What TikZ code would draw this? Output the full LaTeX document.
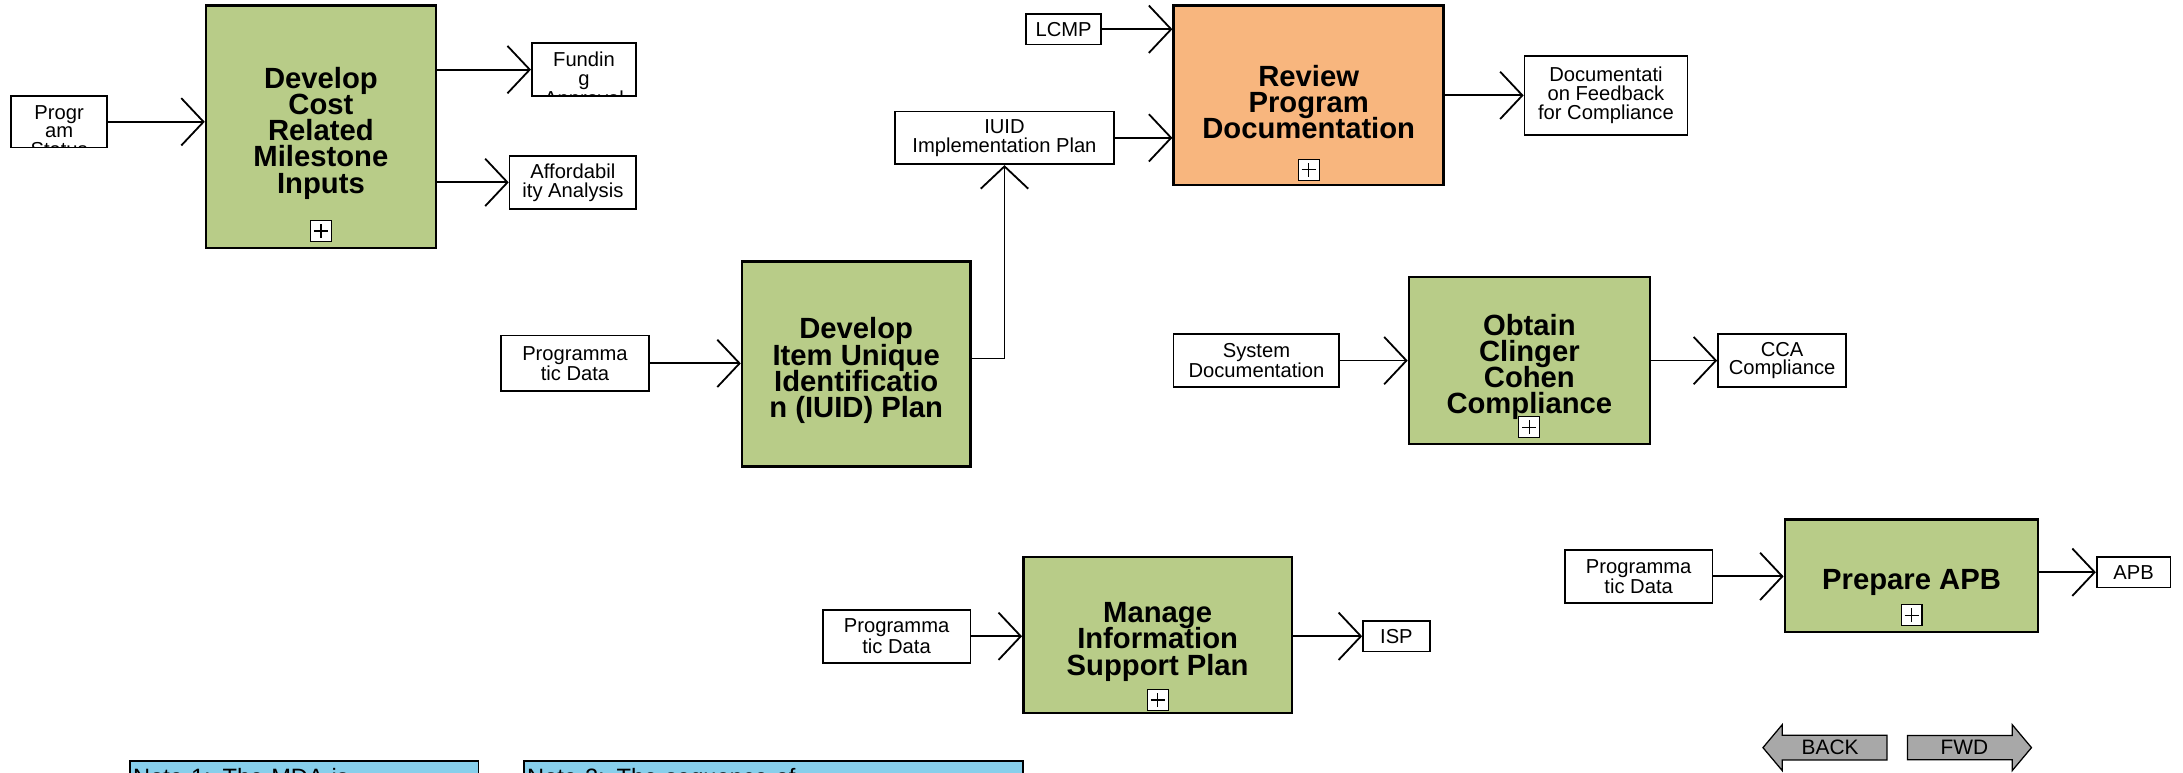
\documentclass[tikz,border=0pt]{standalone}
\usepackage{fontspec}
\setmainfont{Liberation Sans}
\usetikzlibrary{arrows.meta, shapes.arrows}
\definecolor{procgreen}{RGB}{184,204,136}
\definecolor{procorange}{RGB}{248,182,126}
\definecolor{noteblue}{RGB}{135,207,235}
\definecolor{navgray}{RGB}{168,168,168}
% pushes the bold titles a little down in their boxes
\newcommand{\toppad}{\rule{0pt}{24.5pt}}
% fixed line distance for the bold titles
\newcommand{\tightlines}{\lineskiplimit=-30pt\relax}

\begin{document}
\begin{tikzpicture}[x=1pt, y=-1pt,
  process/.style={draw, line width=1.8pt, fill=procgreen, align=center, inner sep=0pt, font=\bfseries\fontsize{21}{18.8}\selectfont\tightlines},
  databox/.style={draw, line width=1.2pt, fill=white, align=center, inner sep=0pt, font=\fontsize{14.5}{13.5}\selectfont},
  cutbox/.style={databox, path picture={\node[draw=none, fill=none, inner sep=0pt, align=center, anchor=north, font=\fontsize{14.5}{13.5}\selectfont] at ([yshift=-6pt]path picture bounding box.north) {#1};}},
  plusbox/.style={draw, line width=0.8pt, fill=white, minimum size=15pt, inner sep=0pt, path picture={\draw[line width=1pt] ([xshift=-5pt]path picture bounding box.center) -- ([xshift=5pt]path picture bounding box.center) ([yshift=-5pt]path picture bounding box.center) -- ([yshift=5pt]path picture bounding box.center);}},
  flow/.style={line width=1.3pt, -{Straight Barb[length=16pt, width=34pt]}},
  notebox/.style={draw, line width=1.3pt, fill=noteblue, anchor=north west, align=left, inner xsep=2pt, inner ysep=5pt, font=\fontsize{17}{17}\selectfont},
  navarrow/.style={single arrow, draw, line width=0.9pt, fill=navgray, minimum height=89pt, minimum width=33pt, single arrow head extend=5pt, single arrow tip angle=100, inner sep=0pt, font=\fontsize{15}{15}\selectfont}
]

  % page size of the reference (pixels of the small copy)
  \useasboundingbox (0,0) rectangle (1568,555);
  \clip (0,0) rectangle (1568,555);
  \fill[white] (0,0) rectangle (1568,555);

  % Activities
  \node[process, minimum width=165pt, minimum height=174pt] (dcost) at (230.5,91) {\toppad Develop\\Cost\\Related\\Milestone\\Inputs};
  \node[process, fill=procorange, minimum width=194pt, minimum height=129pt] (review) at (940,68.5) {\toppad Review\\Program\\Documentation};
  \node[process, minimum width=164pt, minimum height=147pt] (iuid) at (615,261.5) {\toppad Develop\\Item Unique\\Identificatio\\n (IUID) Plan};
  \node[process, minimum width=173pt, minimum height=120pt] (obtain) at (1098.5,259) {\toppad Obtain\\Clinger\\Cohen\\Compliance};
  \node[process, minimum width=193pt, minimum height=112pt] (manage) at (831.5,456) {\toppad Manage\\Information\\Support Plan};
  \node[process, minimum width=182pt, minimum height=81pt] (prepare) at (1373,413.5) {\toppad Prepare APB};

  % the little + boxes
  \node[plusbox] (dcostplus) at ([yshift=13pt]dcost.south) {};
  \node[plusbox] (reviewplus) at ([yshift=12pt]review.south) {};
  \node[plusbox] (obtainplus) at ([yshift=13pt]obtain.south) {};
  \node[plusbox] (manageplus) at ([yshift=10pt]manage.south) {};
  \node[plusbox] (prepareplus) at ([yshift=13pt]prepare.south) {};

  % Inputs and outputs
  \node[cutbox={Progr\\am\\Status}, minimum width=69pt, minimum height=37pt] (progstatus) at (42.5,87.5) {};
  \node[cutbox={Fundin\\g\\Approval}, minimum width=75pt, minimum height=38pt] (funding) at (419.5,50) {};
  \node[databox, minimum width=91pt, minimum height=38pt] (afford) at (411.5,131) {Affordabil\\ity Analysis};
  \node[databox, minimum width=54pt, minimum height=22pt] (lcmp) at (764,21) {LCMP};
  \node[databox, minimum width=157pt, minimum height=38pt] (iuidplan) at (721.5,99) {IUID\\Implementation Plan};
  \node[databox, minimum width=117pt, minimum height=57pt] (docfb) at (1153.5,68.5) {Documentati\\on Feedback\\for Compliance};
  \node[databox, minimum width=106pt, minimum height=40pt] (pdata1) at (413,261) {Programma\\tic Data};
  \node[databox, minimum width=119pt, minimum height=38pt] (sysdoc) at (902.5,259) {System\\Documentation};
  \node[databox, minimum width=92pt, minimum height=38pt] (cca) at (1280,259) {CCA\\Compliance};
  \node[databox, minimum width=106pt, minimum height=38pt] (pdata2) at (644,457) {Programma\\tic Data};
  \node[databox, minimum width=48pt, minimum height=22pt] (isp) at (1003,457) {ISP};
  \node[databox, minimum width=106pt, minimum height=38pt] (pdata3) at (1177,414) {Programma\\tic Data};
  \node[databox, minimum width=53pt, minimum height=22pt] (apb) at (1532.5,411) {APB};

  % Flows
  \draw[flow] (progstatus.east) -- (progstatus.east -| dcost.west);
  \draw[flow] (funding.west -| dcost.east) -- (funding.west);
  \draw[flow] (afford.west -| dcost.east) -- (afford.west);
  \draw[flow] (lcmp.east) -- (lcmp.east -| review.west);
  \draw[flow] (iuidplan.east) -- (iuidplan.east -| review.west);
  \draw[flow] (docfb.west -| review.east) -- (docfb.west);
  \draw[flow] (pdata1.east) -- (pdata1.east -| iuid.west);
  \draw[flow] ([yshift=4pt]iuid.east) -| (iuidplan.south);
  \draw[flow] (sysdoc.east) -- (sysdoc.east -| obtain.west);
  \draw[flow] (cca.west -| obtain.east) -- (cca.west);
  \draw[flow] (pdata2.east) -- (pdata2.east -| manage.west);
  \draw[flow] (isp.west -| manage.east) -- (isp.west);
  \draw[flow] (pdata3.east) -- (pdata3.east -| prepare.west);
  \draw[flow] (apb.west -| prepare.east) -- (apb.west);

  % Notes (cut off by the page edge)
  \node[notebox, text width=246pt] (note1) at (93,546) {Note 1: The MDA is};
  \node[notebox, text width=354pt] (note2) at (376,546) {Note 2: The sequence of};

  % BACK and FWD buttons
  \node[navarrow, shape border rotate=180] (back) at (1314.5,537) {BACK};
  \node[navarrow] (fwd) at (1411,537) {FWD};

\end{tikzpicture}
\end{document}
